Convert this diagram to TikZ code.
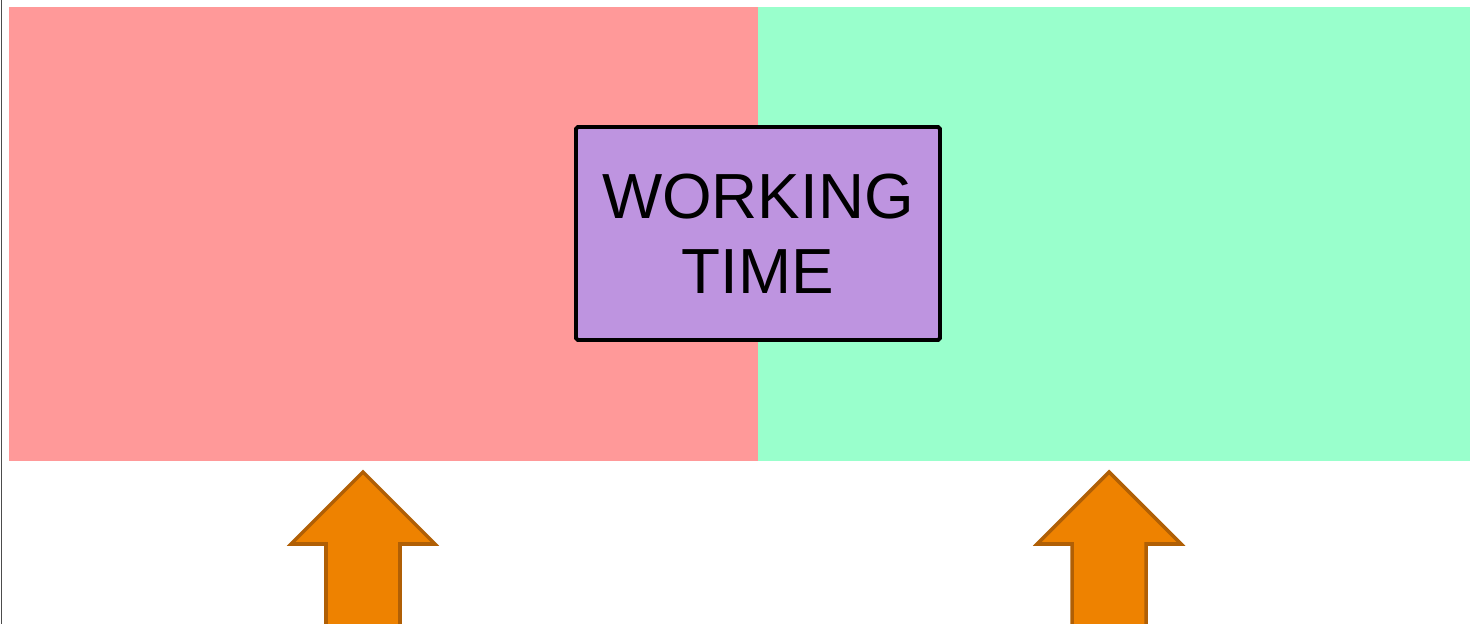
\documentclass[tikz,border=0pt]{standalone}
\usepackage{fontspec}
\setmainfont{Liberation Sans}
\usetikzlibrary{positioning}

\definecolor{pastRed}{HTML}{FF9999}
\definecolor{futureGreen}{HTML}{99FFCC}
\definecolor{workPurple}{HTML}{BE94E0}
\definecolor{arrowOrange}{HTML}{EE8200}
\definecolor{arrowEdge}{HTML}{B05F05}

\begin{document}
\begin{tikzpicture}[
    x=0.02cm, y=-0.02cm,
    period/.style={draw=none},
    label box/.style={draw=black, line width=2.2pt, rounded corners=1pt, fill=workPurple,
        minimum width=7.28cm, minimum height=4.26cm, align=center,
        font=\fontsize{36.3}{42.5}\selectfont},
    upArrow/.style={fill=arrowOrange, draw=arrowEdge, line width=2pt, line join=miter},
]

\useasboundingbox (0,0) rectangle (1470,624);

%----------------------------------
% Two periods
%----------------------------------

\fill[period, pastRed] (9,7) rectangle (758,461);
\fill[period, futureGreen] (758,7) rectangle (1470,461);

\draw[line width=1pt, black!70] (1.5,0) -- (1.5,624);

%----------------------------------
% Label
%----------------------------------

\node[label box] (work) at (758,233.5) {WORKING\\TIME};

%----------------------------------
% Arrows
%----------------------------------

\coordinate (tipLeft) at (363,472);
\coordinate (tipRight) at (1109,472);

\foreach \tip in {tipLeft, tipRight} {
    \draw[upArrow] (\tip) -- ++(72,72) -- ++(-35,0) -- ++(0,82)
        -- ++(-74,0) -- ++(0,-82) -- ++(-35,0) -- cycle;
}

\end{tikzpicture}
\end{document}
